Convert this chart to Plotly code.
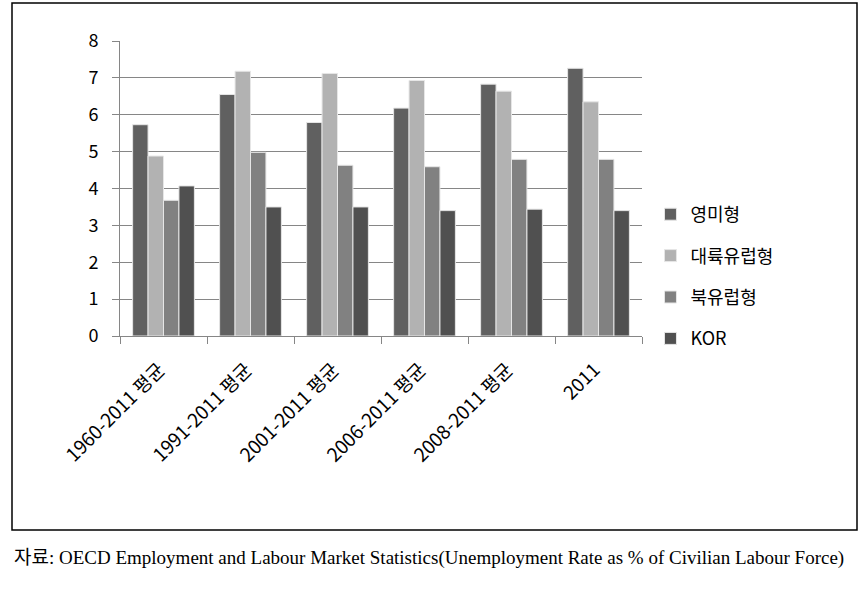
import plotly.graph_objects as go

W, H = 865, 592

categories = ["1960-2011 평균", "1991-2011 평균", "2001-2011 평균", "2006-2011 평균", "2008-2011 평균", "2011"]
series_names = ["영미형", "대륙유럽형", "북유럽형", "KOR"]
anglo = [5.73, 6.55, 5.79, 6.18, 6.83, 7.26]
continental = [4.88, 7.18, 7.12, 6.93, 6.64, 6.35]
nordic = [3.68, 4.98, 4.63, 4.59, 4.79, 4.79]
kor = [4.07, 3.50, 3.50, 3.40, 3.44, 3.40]
colors = ["#606060", "#b2b2b2", "#818181", "#505050"]
yticks = [0, 1, 2, 3, 4, 5, 6, 7, 8]
caption = "자료: OECD Employment and Labour Market Statistics(Unemployment Rate as % of Civilian Labour Force)"

fig = go.Figure()
for i, (name, vals) in enumerate(zip(series_names, [anglo, continental, nordic, kor])):
    fig.add_trace(go.Bar(
        x=categories, y=vals, name=name, legendgroup=name,
        marker=dict(color=colors[i], line=dict(color="#e6e6e6", width=1)),
    ))

px0, px1 = 120, 642
py0, py1 = 336, 41

fig.update_layout(
    width=W, height=H,
    margin=dict(l=0, r=0, t=0, b=0, autoexpand=False),
    paper_bgcolor="white", plot_bgcolor="white",
    barmode="group", bargap=0.29, bargroupgap=0,
    font=dict(family="Noto Sans CJK KR, Noto Sans, sans-serif", color="black"),
    xaxis=dict(
        domain=[px0 / W, px1 / W],
        type="category",
        automargin=False,
        tickangle=-45,
        tickson="boundaries",
        ticks="outside", ticklen=7, tickcolor="#868686",
        showline=True, linecolor="#868686", linewidth=1,
        tickfont=dict(size=19),
        ticklabelstandoff=14,
        ticklabelshift=-4,
        showgrid=False,
    ),
    yaxis=dict(
        domain=[1 - py0 / H, 1 - py1 / H],
        range=[0, 8],
        automargin=False,
        tickvals=yticks,
        ticks="outside", ticklen=7, tickcolor="#868686",
        showline=True, linecolor="#868686", linewidth=1,
        showgrid=True, gridcolor="#868686", gridwidth=1,
        tickfont=dict(size=18),
        ticklabelstandoff=10,
        zeroline=False,
    ),
    legend=dict(
        x=0.752, y=1 - 196 / H, xanchor="left", yanchor="top",
        font=dict(size=18),
        itemwidth=30,
        tracegroupgap=15,
        bgcolor="rgba(0,0,0,0)",
    ),
    showlegend=True,
)

fig.add_shape(type="rect", xref="paper", yref="paper",
              x0=12 / W, x1=857 / W, y0=1 - 530 / H, y1=1 - 3 / H,
              line=dict(color="black", width=1.5), fillcolor="rgba(0,0,0,0)")

fig.add_annotation(
    text=caption, xref="paper", yref="paper",
    x=12 / W, y=1 - 558 / H, xanchor="left", yanchor="middle",
    showarrow=False,
    font=dict(family="Liberation Serif, Noto Sans CJK KR, serif", size=19, color="black"),
)

fig.write_html("out.html", config={"displayModeBar": False},
               post_script="document.body.style.margin='0';")
